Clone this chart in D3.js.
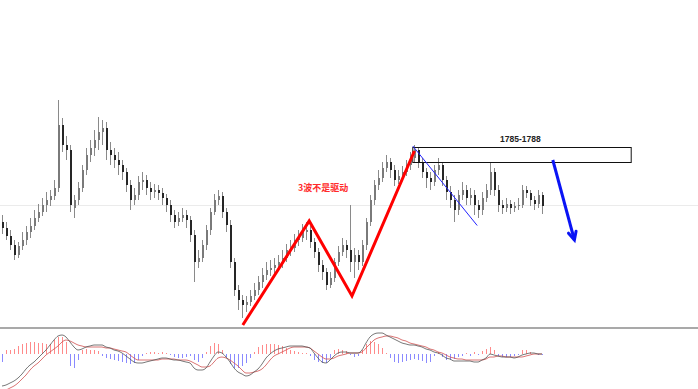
<!DOCTYPE html>
<meta charset="utf-8">
<style>
  body { margin: 0; background: #fff; }
  svg { display: block; }
</style>
<body>
<div id="chart"></div>
<script src="https://d3js.org/d3.v7.min.js"></script>
<script>
// candles (one per bar, left to right)
const opens = [1773.1,1771.9,1770.3,1768.5,1766.5,1768.3,1769.5,1771.1,1772.3,1773.9,1775.1,1776.5,1777.5,1778.3,1779.9,1792.5,1788.5,1787.5,1775.9,1777.5,
  1779.9,1783.5,1786.5,1787.9,1789.5,1791.1,1791.9,1787.5,1786.5,1785.5,1784.5,1783.1,1780.5,1777.5,1778.5,1781.1,1781.5,1779.9,1779.1,1779.5,
  1778.9,1777.9,1776.5,1774.5,1773.1,1773.9,1774.5,1773.5,1770.5,1765.1,1765.9,1768.5,1771.5,1775.1,1777.5,1778.3,1775.1,1772.5,1765.1,1759.5,
  1757.5,1756.5,1757.1,1758.3,1759.5,1761.1,1762.5,1763.5,1763.9,1764.5,1765.1,1765.9,1767.5,1767.9,1769.5,1769.9,1771.1,1771.5,1769.1,1767.1,
  1764.5,1763.1,1760.5,1761.9,1765.1,1767.1,1768.5,1767.5,1765.1,1766.5,1765.1,1768.5,1773.1,1777.5,1780.5,1781.9,1783.9,1785.1,1783.5,1781.5,
  1782.3,1783.1,1784.5,1785.9,1787.5,1785.1,1783.1,1781.9,1781.1,1783.5,1784.5,1781.5,1779.1,1777.5,1775.5,1778.5,1779.5,1777.9,1778.5,1776.5,
  1775.5,1777.9,1779.5,1783.1,1779.5,1776.5,1775.9,1776.7,1775.9,1776.3,1776.5,1779.5,1778.9,1777.5,1776.7,1778.5];
const highs = [1774.5,1773.1,1771.5,1769.5,1769.1,1771.1,1772.3,1773.9,1775.5,1776.7,1777.9,1779.1,1779.5,1781.5,1797.5,1793.9,1790.3,1788.5,1778.5,1781.1,
  1784.5,1787.9,1789.5,1791.5,1794.1,1793.5,1793.1,1789.1,1787.9,1787.1,1785.5,1783.9,1781.5,1779.9,1782.3,1783.1,1782.5,1781.1,1780.7,1780.5,
  1779.9,1778.7,1777.5,1775.5,1775.1,1775.9,1775.5,1774.3,1771.5,1767.5,1769.5,1772.5,1775.9,1778.7,1779.5,1779.1,1775.9,1773.5,1765.9,1760.5,
  1758.5,1758.3,1759.5,1760.9,1762.3,1763.9,1765.1,1765.5,1765.9,1766.5,1767.5,1768.7,1769.5,1770.7,1771.5,1772.7,1773.1,1772.3,1769.9,1767.9,
  1765.5,1763.9,1763.1,1765.9,1768.3,1769.9,1769.5,1776.5,1767.9,1767.5,1769.5,1773.9,1778.5,1781.5,1783.5,1785.1,1786.5,1785.9,1784.5,1783.5,
  1784.3,1785.5,1787.1,1788.5,1787.9,1785.9,1783.9,1783.1,1784.5,1785.9,1785.1,1782.3,1780.3,1778.5,1779.5,1781.1,1780.5,1779.9,1779.5,1777.5,
  1779.1,1780.7,1784.9,1783.9,1780.5,1777.5,1777.9,1777.5,1777.1,1777.9,1780.5,1780.3,1779.5,1778.3,1779.5,1779.1];
const lows = [1770.7,1769.5,1767.5,1765.5,1765.9,1767.5,1768.5,1769.9,1771.5,1773.1,1774.3,1775.1,1776.3,1777.5,1779.1,1787.1,1785.5,1775.1,1773.9,1776.5,
  1779.1,1782.5,1785.1,1786.3,1787.5,1788.5,1785.5,1784.5,1783.9,1782.5,1781.5,1779.1,1775.5,1776.5,1777.5,1779.5,1778.5,1777.5,1777.9,1777.5,
  1776.5,1775.1,1773.1,1771.9,1772.3,1773.1,1771.9,1769.1,1761.1,1763.9,1765.1,1767.5,1770.5,1774.5,1776.5,1773.9,1771.1,1763.9,1758.3,1755.5,
  1753.9,1755.1,1756.3,1757.5,1758.5,1759.9,1761.5,1762.3,1762.7,1763.5,1763.9,1765.1,1766.3,1767.1,1768.3,1769.1,1769.5,1767.9,1765.9,1763.1,
  1761.5,1759.5,1759.9,1761.1,1764.3,1766.3,1765.9,1763.1,1761.9,1763.5,1764.3,1767.5,1772.3,1776.5,1779.5,1781.1,1783.1,1781.9,1780.3,1780.7,
  1781.5,1782.3,1783.5,1785.1,1783.9,1781.9,1779.9,1779.5,1780.3,1782.5,1780.3,1777.5,1775.9,1773.1,1774.5,1777.5,1776.5,1776.5,1774.5,1773.9,
  1774.5,1777.1,1778.5,1778.3,1775.1,1774.7,1775.1,1774.7,1775.1,1775.5,1775.9,1777.9,1776.3,1775.5,1775.9,1774.7];
const closes = [1771.9,1770.3,1768.5,1766.5,1768.3,1769.5,1771.1,1772.3,1773.9,1775.1,1776.5,1777.5,1778.3,1779.9,1792.5,1788.5,1787.5,1776.5,1777.5,1779.9,
  1783.5,1786.5,1787.9,1789.5,1791.1,1791.9,1787.5,1786.5,1785.5,1784.5,1783.1,1780.5,1777.5,1778.5,1781.1,1781.5,1779.9,1779.1,1779.5,1778.9,
  1777.9,1776.5,1774.5,1773.1,1773.9,1774.5,1773.5,1770.5,1765.1,1765.9,1768.5,1771.5,1775.1,1777.5,1778.3,1775.1,1772.5,1765.1,1759.5,1757.5,
  1756.5,1757.1,1758.3,1759.5,1761.1,1762.5,1763.5,1763.9,1764.5,1765.1,1765.9,1767.5,1767.9,1769.5,1769.9,1771.1,1771.5,1769.1,1767.1,1764.5,
  1763.1,1760.5,1761.9,1765.1,1767.1,1768.5,1767.5,1765.1,1766.5,1765.1,1768.5,1773.1,1777.5,1780.5,1781.9,1783.9,1785.1,1783.5,1781.5,1782.3,
  1783.1,1784.5,1785.9,1787.5,1785.1,1783.1,1781.9,1781.1,1783.5,1784.5,1781.5,1779.1,1777.5,1775.5,1778.5,1779.5,1777.9,1778.5,1776.5,1775.5,
  1777.9,1779.5,1783.1,1779.5,1776.5,1775.9,1776.7,1775.9,1776.3,1776.5,1779.5,1778.9,1777.5,1776.7,1778.5,1776.3];

// MACD panel
const dif = [-3.2,-3.1,-2.9,-2.7,-2.4,-2.0,-1.5,-1.1,-0.8,-0.4,0,0.4,0.9,1.4,1.8,1.9,1.7,1.2,0.7,0.4,
  0.5,0.7,0.8,0.9,0.9,0.9,0.7,0.6,0.4,0.3,0.1,-0.2,-0.5,-0.8,-0.9,-0.9,-0.8,-0.7,-0.6,-0.5,
  -0.4,-0.4,-0.5,-0.6,-0.6,-0.7,-0.8,-0.9,-1.4,-1.6,-1.6,-1.4,-0.8,-0.2,0.2,0.1,-0.3,-0.8,-1.4,-1.8,
  -2.0,-2.2,-2.1,-1.8,-1.5,-1.0,-0.4,0,0.3,0.5,0.6,0.7,0.8,0.8,0.8,0.8,0.7,0.6,0.1,-0.4,
  -0.8,-0.9,-0.6,-0.2,0.1,0.2,0.2,0.1,0.1,0.1,0.4,1.1,1.7,2.0,2.1,2.1,1.9,1.7,1.5,1.3,
  1.1,1.0,0.9,0.9,0.8,0.7,0.5,0.4,0.2,0.1,-0.1,-0.4,-0.5,-0.7,-0.7,-0.7,-0.7,-0.7,-0.8,-0.8,
  -0.6,-0.4,0,-0.1,-0.2,-0.3,-0.3,-0.3,-0.4,-0.3,-0.1,0,0.1,0.1,0,0];
const dea = [-3.7,-3.6,-3.4,-3.2,-2.9,-2.5,-2.1,-1.6,-1.2,-0.9,-0.5,-0.1,0.2,0.5,0.8,1.2,1.4,1.3,1.1,0.9,
  0.8,0.7,0.7,0.7,0.7,0.7,0.6,0.6,0.5,0.4,0.3,0.2,-0.1,-0.4,-0.6,-0.6,-0.6,-0.6,-0.6,-0.6,
  -0.5,-0.5,-0.5,-0.5,-0.6,-0.6,-0.6,-0.7,-0.9,-1.1,-1.3,-1.3,-1.2,-0.8,-0.4,-0.3,-0.4,-0.6,-0.9,-1.2,
  -1.6,-1.9,-1.9,-1.8,-1.7,-1.5,-1.1,-0.6,-0.2,0,0.2,0.4,0.6,0.7,0.7,0.7,0.7,0.6,0.3,0,
  -0.3,-0.5,-0.5,-0.4,-0.2,-0.1,0,0.1,0.1,0.1,0.2,0.6,1.0,1.4,1.6,1.7,1.8,1.8,1.7,1.6,
  1.4,1.3,1.1,1.0,0.9,0.8,0.7,0.5,0.4,0.2,0.1,-0.1,-0.3,-0.4,-0.5,-0.5,-0.6,-0.6,-0.6,-0.6,
  -0.6,-0.5,-0.3,-0.3,-0.2,-0.2,-0.3,-0.3,-0.3,-0.3,-0.3,-0.2,-0.1,0,0,0];
const hist = [-0.8,0.4,0.4,0.5,0.8,1.0,1.1,1.2,1.2,1.1,1.1,1.0,1.0,1.4,1.7,1.7,1.2,-1.2,-1.4,-0.6,
  0.4,0.5,0.4,0.4,0.3,-0.2,-0.4,-0.5,-0.6,-0.7,-0.8,-0.9,-1.0,-0.9,-0.6,-0.2,0.1,0.2,0.2,0.1,
  0.2,0.1,-0.1,-0.3,-0.4,-0.4,-0.3,-0.2,-0.6,-0.8,-0.4,0.2,0.8,1.1,1.0,0.4,-0.3,-1.0,-1.4,-1.4,
  -1.2,-0.9,-0.4,0.2,0.7,0.9,1.0,1.0,1.0,0.9,0.8,0.6,0.4,0.3,0.2,0.1,0.1,-0.2,-0.6,-0.8,
  -0.9,-0.9,-0.4,0.4,0.5,0.4,0.3,-0.1,-0.3,-0.2,0.4,1.0,1.3,1.2,1.0,0.6,0.1,-0.4,-0.8,-0.9,
  -0.8,-0.7,-0.6,-0.5,-0.6,-0.7,-0.9,-0.8,-0.2,0.2,-0.3,-0.6,-0.6,-0.5,-0.3,-0.2,0.1,-0.2,0.2,-0.1,
  0.3,0.5,0.7,0.4,-0.2,-0.3,-0.3,-0.3,-0.2,-0.1,0.4,0.4,0.2,0,-0.1,-0.1];

// annotations (bar index, price)
const waveIdx = [60.2, 76.8, 87.5, 103.1];
const wavePx = [1752.5, 1773.3, 1758.3, 1787.3];
const trendIdx = [102.7, 118.8];
const trendPx = [1788.3, 1772.4];
const zoneIdx = [102.7, 157.3];
const zonePx = [1785, 1788];
const zoneLabel = "1785-1788";
const arrowIdx = [137.7, 143.1];
const arrowPx = [1785.5, 1769.5];
const note = {idx: 74, px: 1779.4, text: "3波不是驱动"};
const lastPx = 1776.5;

const W = 698, H = 389;
const mainBottom = 327, macdTop = 329;

const svg = d3.select("#chart").append("svg")
  .attr("width", W).attr("height", H);

const x = d3.scaleLinear().domain([0, 135]).range([2, 542]);
const y = d3.scaleLinear().domain([1752.1, 1817.5]).range([mainBottom, 0]);
const ym = d3.scaleLinear().domain([-3.5, 2.6]).range([389, 328]);

svg.append("defs").append("clipPath").attr("id", "macdClip")
  .append("rect").attr("x", 0).attr("y", macdTop).attr("width", W).attr("height", H - macdTop);

// last price line
svg.append("line")
  .attr("x1", 0).attr("x2", W)
  .attr("y1", Math.round(y(lastPx)) + 0.5).attr("y2", Math.round(y(lastPx)) + 0.5)
  .attr("stroke", "#ebebeb").attr("stroke-width", 1);

// candles
const candles = svg.append("g").attr("shape-rendering", "crispEdges");
const idx = d3.range(closes.length);
candles.selectAll("line.wick").data(idx).join("line")
  .attr("class", "wick")
  .attr("x1", i => Math.round(x(i)) + 0.5).attr("x2", i => Math.round(x(i)) + 0.5)
  .attr("y1", i => y(highs[i])).attr("y2", i => y(lows[i]))
  .attr("stroke", "#8a8a8a").attr("stroke-width", 1);
candles.selectAll("rect").data(idx).join("rect")
  .attr("x", i => Math.round(x(i)) - 0.5)
  .attr("width", 2)
  .attr("y", i => y(Math.max(opens[i], closes[i])))
  .attr("height", i => Math.max(1, Math.abs(y(opens[i]) - y(closes[i]))))
  .attr("fill", i => closes[i] >= opens[i] ? "#7a7a7a" : "#262626");

// separator
svg.append("line")
  .attr("x1", 0).attr("x2", W).attr("y1", 328).attr("y2", 328)
  .attr("stroke", "#8c8c8c").attr("stroke-width", 1.6);

// MACD
const macd = svg.append("g").attr("clip-path", "url(#macdClip)");
macd.append("g").attr("shape-rendering", "crispEdges")
  .selectAll("rect").data(idx).join("rect")
  .attr("x", i => Math.round(x(i)) - 0.5)
  .attr("width", 1.5)
  .attr("y", i => Math.min(ym(0), ym(hist[i])))
  .attr("height", i => Math.abs(ym(hist[i]) - ym(0)))
  .attr("fill", i => hist[i] >= 0 ? "#ff8a8a" : "#8a8aff");
const lineGen = arr => d3.line().x((d, i) => x(i)).y(d => ym(d)).curve(d3.curveMonotoneX)(arr);
macd.append("path").attr("d", lineGen(dea))
  .attr("fill", "none").attr("stroke", "#d05050").attr("stroke-width", 0.8);
macd.append("path").attr("d", lineGen(dif))
  .attr("fill", "none").attr("stroke", "#555").attr("stroke-width", 0.8);

// resistance zone
svg.append("rect")
  .attr("x", x(zoneIdx[0])).attr("y", y(zonePx[1]))
  .attr("width", x(zoneIdx[1]) - x(zoneIdx[0]))
  .attr("height", y(zonePx[0]) - y(zonePx[1]))
  .attr("fill", "#fff").attr("fill-opacity", 0).attr("stroke", "#111").attr("stroke-width", 1);
svg.append("text")
  .attr("x", x(129.6)).attr("y", y(1789.2))
  .attr("text-anchor", "middle")
  .attr("font-family", "Liberation Sans, Arial, sans-serif")
  .attr("font-size", 8.5).attr("font-weight", "bold").attr("fill", "#222")
  .text(zoneLabel);

// blue trend line
svg.append("line")
  .attr("x1", x(trendIdx[0])).attr("y1", y(trendPx[0]))
  .attr("x2", x(trendIdx[1])).attr("y2", y(trendPx[1]))
  .attr("stroke", "#2222ff").attr("stroke-width", 1);

// red wave zigzag
svg.append("path")
  .attr("d", d3.line().x(d => x(d[0])).y(d => y(d[1]))(waveIdx.map((v, i) => [v, wavePx[i]])))
  .attr("fill", "none").attr("stroke", "#ff0000").attr("stroke-width", 3)
  .attr("stroke-linejoin", "miter");

svg.append("text")
  .attr("x", x(note.idx)).attr("y", y(note.px))
  .attr("font-family", "Noto Sans CJK SC, sans-serif")
  .attr("font-size", 9).attr("font-weight", "bold").attr("fill", "#ff2a2a")
  .text(note.text);

// blue arrow
const ax1 = x(arrowIdx[0]), ay1 = y(arrowPx[0]), ax2 = x(arrowIdx[1]), ay2 = y(arrowPx[1]);
svg.append("line")
  .attr("x1", ax1).attr("y1", ay1).attr("x2", ax2).attr("y2", ay2)
  .attr("stroke", "#0a14f5").attr("stroke-width", 3);
const ang = Math.atan2(ay2 - ay1, ax2 - ax1);
const headLen = 9, spread = 0.45;
svg.append("path")
  .attr("d", `M${ax2 - headLen * Math.cos(ang - spread)},${ay2 - headLen * Math.sin(ang - spread)} L${ax2},${ay2} L${ax2 - headLen * Math.cos(ang + spread)},${ay2 - headLen * Math.sin(ang + spread)}`)
  .attr("fill", "none").attr("stroke", "#0a14f5").attr("stroke-width", 3)
  .attr("stroke-linecap", "round");
</script>
</body>
